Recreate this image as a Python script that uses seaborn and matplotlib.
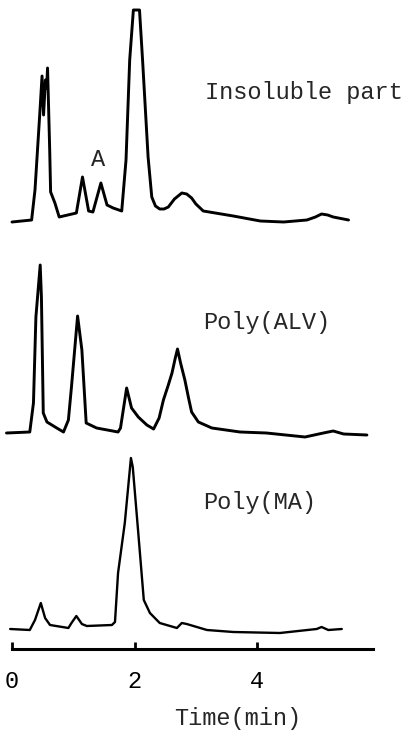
import numpy as np
import pandas as pd
import seaborn as sns
import matplotlib.pyplot as plt

# Retention time (min) and detector signal (arbitrary units, above each baseline)
t_insoluble = [0.0, 0.32, 0.375, 0.46, 0.49, 0.515, 0.545, 0.565, 0.58, 0.615, 0.63, 0.70, 0.77,
               1.05, 1.15, 1.25, 1.32, 1.45, 1.55, 1.65, 1.79, 1.86, 1.92, 1.98, 2.08, 2.13,
               2.22, 2.28, 2.34, 2.41, 2.48, 2.55, 2.65, 2.77, 2.85, 2.93, 3.0, 3.12, 3.61,
               4.05, 4.43, 4.81, 4.95, 5.05, 5.15, 5.24, 5.49]
s_insoluble = [0, 2, 32, 115, 146, 107, 142, 134, 154, 72, 30, 19, 5,
               9, 45, 11, 10, 39, 17, 14, 11, 62, 162, 212, 212, 162,
               65, 25, 16, 13, 13, 15, 23, 29, 28, 24, 18, 11, 6,
               1, 0, 2, 5, 8, 7, 5, 2]

t_alv = [-0.09, 0.29, 0.35, 0.39, 0.46, 0.48, 0.51, 0.57, 0.73, 0.84, 0.92, 0.97, 1.07, 1.14,
         1.21, 1.38, 1.73, 1.77, 1.87, 1.95, 2.06, 2.20, 2.31, 2.40, 2.47, 2.55, 2.61, 2.66,
         2.70, 2.75, 2.82, 2.88, 2.93, 3.04, 3.26, 3.72, 4.15, 4.78, 5.08, 5.24, 5.41, 5.79]
s_alv = [0, 1, 30, 116, 168, 136, 20, 11, 5, 1, 13, 46, 117, 83,
         10, 5, 1, 5, 45, 25, 16, 8, 4, 15, 33, 48, 60, 74,
         84, 70, 53, 35, 21, 11, 5, 1, 0, -4, 0, 2, -1, -2]

t_ma = [-0.03, 0.29, 0.375, 0.47, 0.54, 0.62, 0.92, 0.97, 1.05, 1.14, 1.22, 1.63, 1.68, 1.73,
        1.84, 1.94, 1.97, 2.06, 2.15, 2.25, 2.41, 2.69, 2.77, 2.85, 3.18, 3.61, 4.37, 4.97,
        5.05, 5.16, 5.38]
s_ma = [1, 0, 10, 27, 12, 5, 2, 7, 14, 6, 4, 5, 8, 57,
        107, 172, 163, 97, 30, 17, 7, 2, 7, 6, 0, -2, -3, 1,
        3, 0, 1]

samples = ['Insoluble part', 'Poly(ALV)', 'Poly(MA)']
x_ticks = [0, 2, 4]

# vertical stacking of the traces
offsets = {'Insoluble part': 509, 'Poly(ALV)': 298, 'Poly(MA)': 101}
widths = {'Insoluble part': 2.1, 'Poly(ALV)': 2.1, 'Poly(MA)': 1.7}

frames = []
for name, t, s in zip(samples, [t_insoluble, t_alv, t_ma], [s_insoluble, s_alv, s_ma]):
    frames.append(pd.DataFrame({'time': t, 'signal': np.array(s) + offsets[name], 'sample': name}))
df = pd.concat(frames, ignore_index=True)

sns.set_style('white')
plt.rcParams['font.family'] = ['Liberation Mono', 'DejaVu Sans Mono']

fig = plt.figure(figsize=(4.17, 7.31), dpi=100)
ax = fig.add_axes([0, 0, 1, 1])

for name in samples:
    sns.lineplot(data=df[df['sample'] == name], x='time', y='signal', sort=False,
                 estimator=None, color='black', lw=widths[name], ax=ax)

ax.set_xlim(-12 / 61.3, (417 - 12) / 61.3)
ax.set_ylim(0, 731)

# labels
fs = 17
ax.text(3.15, 639, 'Insoluble part', fontsize=fs, va='center', ha='left')
ax.text(1.40, 572, 'A', fontsize=fs, va='center', ha='center')
ax.text(3.12, 408, 'Poly(ALV)', fontsize=fs, va='center', ha='left')
ax.text(3.12, 229, 'Poly(MA)', fontsize=fs, va='center', ha='left')

# time axis
for side in ['top', 'left', 'right']:
    ax.spines[side].set_visible(False)
ax.spines['bottom'].set_position(('data', 82))
ax.spines['bottom'].set_bounds(0, 5.89)
ax.spines['bottom'].set_linewidth(2.2)
ax.spines['bottom'].set_color('black')
ax.set_xticks(x_ticks)
ax.set_xticklabels([str(v) for v in x_ticks])
ax.set_yticks([])
ax.tick_params(axis='x', bottom=True, direction='in', length=5, width=2, pad=15,
               labelsize=fs, colors='black')
ax.set_xlabel('')
ax.set_ylabel('')
fig.text(238 / 417, 1 - 718 / 731, 'Time(min)', fontsize=fs, ha='center', va='center')

fig.savefig('out.png', dpi=100)
